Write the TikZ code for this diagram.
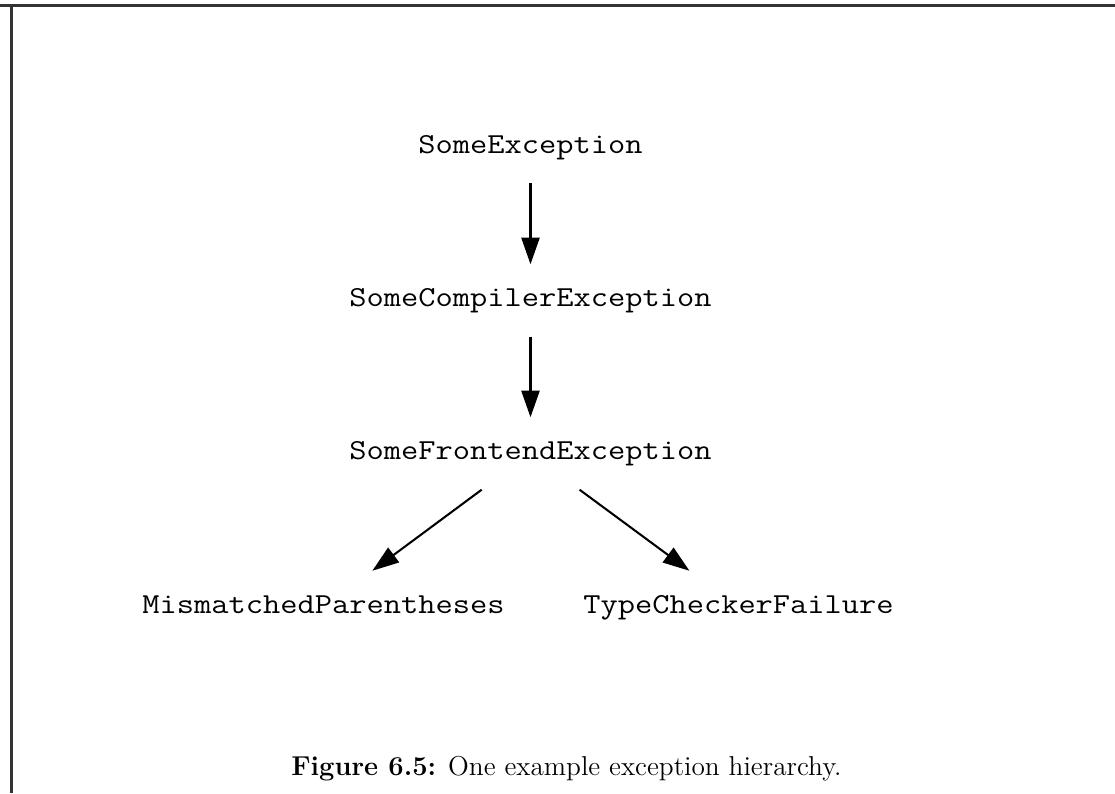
\documentclass[tikz,border=0pt]{standalone}
\usepackage{fontspec}
\newfontfamily\clsfont[FakeStretch=1.155]{Latin Modern Mono}
\usetikzlibrary{arrows.meta}

\tikzset{
  cls/.style={anchor=base, inner sep=0pt, outer xsep=0pt, outer ysep=10pt,
    text height=7.5pt, text depth=2.5pt,
    font=\fontsize{12}{14}\selectfont\clsfont},
  sub/.style={line width=0.85pt, -{Triangle[length=11pt,width=7.5pt]}}
}

\begin{document}
\begin{tikzpicture}[x=41.4pt, y=-41.4pt]
            \useasboundingbox (0, 0) rectangle (11.15, 7.93);
            \draw[black!80, line width=0.85pt] (0, 0.055) -- (11.15, 0.055);
            \draw[black!80, line width=0.85pt] (0.115, 0.055) -- (0.115, 7.93);

            \node[cls] (A) at (5.305, 1.53) {SomeException};
            \node[cls] (B) at (5.305, 3.065) {SomeCompilerException};
            \node[cls] (C) at (5.305, 4.595) {SomeFrontendException};
            \node[cls] (D) at (3.235, 6.13) {MismatchedParentheses};
            \node[cls] (E) at (7.385, 6.13) {TypeCheckerFailure};

            \draw[sub] (A) to (B);
            \draw[sub] (B) to (C);
            \draw[sub] (C) to (D);
            \draw[sub] (C) to (E);

            \node[anchor=base, font=\fontsize{11.3}{14}\selectfont] (X) at (5.665, 7.75) {\textbf{Figure 6.5:} One example exception hierarchy.};
        \end{tikzpicture}
\end{document}
